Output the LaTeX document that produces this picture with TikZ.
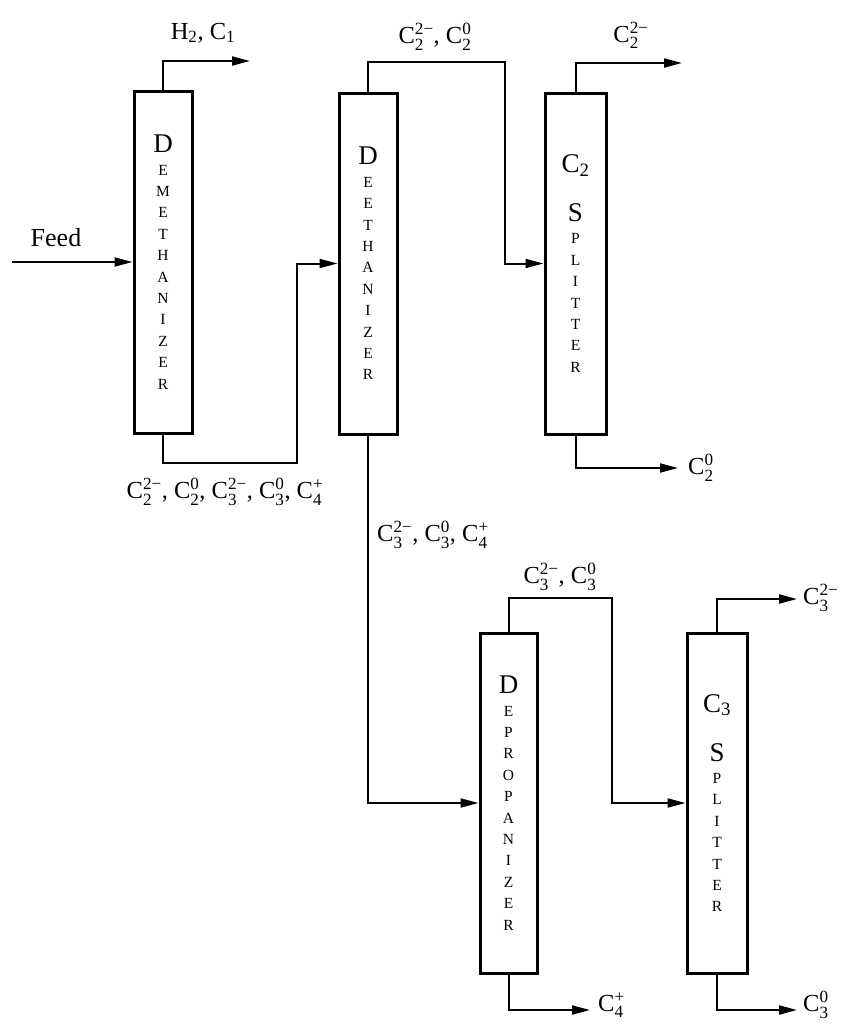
\documentclass[tikz,border=0pt]{standalone}
\usepackage{fontspec}
\setmainfont{Liberation Serif}
\usepackage{amsmath}
\usetikzlibrary{arrows.meta}
\newcommand{\Cs}[2]{C$_{\text{#1}}^{\text{#2}}$}
\newcommand{\colinit}[1]{{\fontsize{27}{27}\selectfont #1}}
\begin{document}
\begin{tikzpicture}[x=1pt,y=-1pt,
  column/.style={draw,line width=3pt,minimum width=58pt,inner sep=0pt,align=center,
    font=\fontsize{15.5}{21.4}\selectfont},
  flow/.style={line width=2pt,-{Triangle[length=18pt,width=9pt]}},
  lbl/.style={font=\fontsize{24.5}{28}\selectfont,inner sep=0pt}]
\useasboundingbox (0,0) rectangle (854,1025);

% columns
\node[column,minimum height=342pt] (dm) at (163,262)
  {\colinit{D}\\[1pt]E\\M\\E\\T\\H\\A\\N\\I\\Z\\E\\R};
\node[column,minimum height=341pt] (de) at (368,263.5)
  {\colinit{D}\\[1pt]E\\E\\T\\H\\A\\N\\I\\Z\\E\\R};
\node[column,minimum width=61pt,minimum height=341pt] (c2) at (575.5,263.5)
  {\colinit{C$_{\text{2}}$}\\[26pt]\colinit{S}\\[1pt]P\\L\\I\\T\\T\\E\\R};
\node[column,minimum width=57pt,minimum height=340pt] (dp) at (508.5,803)
  {\colinit{D}\\[1pt]E\\P\\R\\O\\P\\A\\N\\I\\Z\\E\\R};
\node[column,minimum width=60pt,minimum height=340pt] (c3) at (717,803)
  {\colinit{C$_{\text{3}}$}\\[26pt]\colinit{S}\\[1pt]P\\L\\I\\T\\T\\E\\R};

% free ends
\coordinate (feedin) at (12,262);
\coordinate (h2out) at (250,61);
\coordinate (c2top) at (682,63);
\coordinate (c2bot) at (678,468);
\coordinate (c3top) at (797,599);
\coordinate (c3bot) at (797,1010);
\coordinate (c4out) at (590,1010);

% connectors
\draw[flow] (feedin) -- (dm.west);
\draw[flow] (dm.north) |- (h2out);
\draw[flow] (dm.south) |- (297,463) |- (de.west);
\draw[flow] (de.north) |- (505,62) |- (c2.west);
\draw[flow] (c2.north) |- (c2top);
\draw[flow] (c2.south) |- (c2bot);
\draw[flow] (de.south) |- (dp.west);
\draw[flow] (dp.north) |- (612,598) |- (c3.west);
\draw[flow] (c3.north) |- (c3top);
\draw[flow] (dp.south) |- (c4out);
\draw[flow] (c3.south) |- (c3bot);

% labels
\node[lbl] (lh2) at (203,33) {H$_{\text{2}}$, C$_{\text{1}}$};
\node[lbl,font=\fontsize{26}{30}\selectfont] (lfeed) at (56,238) {Feed};
\node[lbl] (lde) at (435,37) {\Cs{2}{2−}, \Cs{2}{0}};
\node[lbl] (lc2top) at (631,35) {\Cs{2}{2−}};
\node[lbl,anchor=west] (lc2bot) at (688,468) {\Cs{2}{0}};
\node[lbl] (ldm) at (225,492) {\Cs{2}{2−}, \Cs{2}{0}, \Cs{3}{2−}, \Cs{3}{0}, \Cs{4}{+}};
\node[lbl,anchor=west] (lde2) at (377,535) {\Cs{3}{2−}, \Cs{3}{0}, \Cs{4}{+}};
\node[lbl] (ldp) at (560,577) {\Cs{3}{2−}, \Cs{3}{0}};
\node[lbl,anchor=west] (lc3top) at (803,598) {\Cs{3}{2−}};
\node[lbl,anchor=west] (lc4) at (598,1005) {\Cs{4}{+}};
\node[lbl,anchor=west] (lc3bot) at (803,1005) {\Cs{3}{0}};
\end{tikzpicture}
\end{document}
